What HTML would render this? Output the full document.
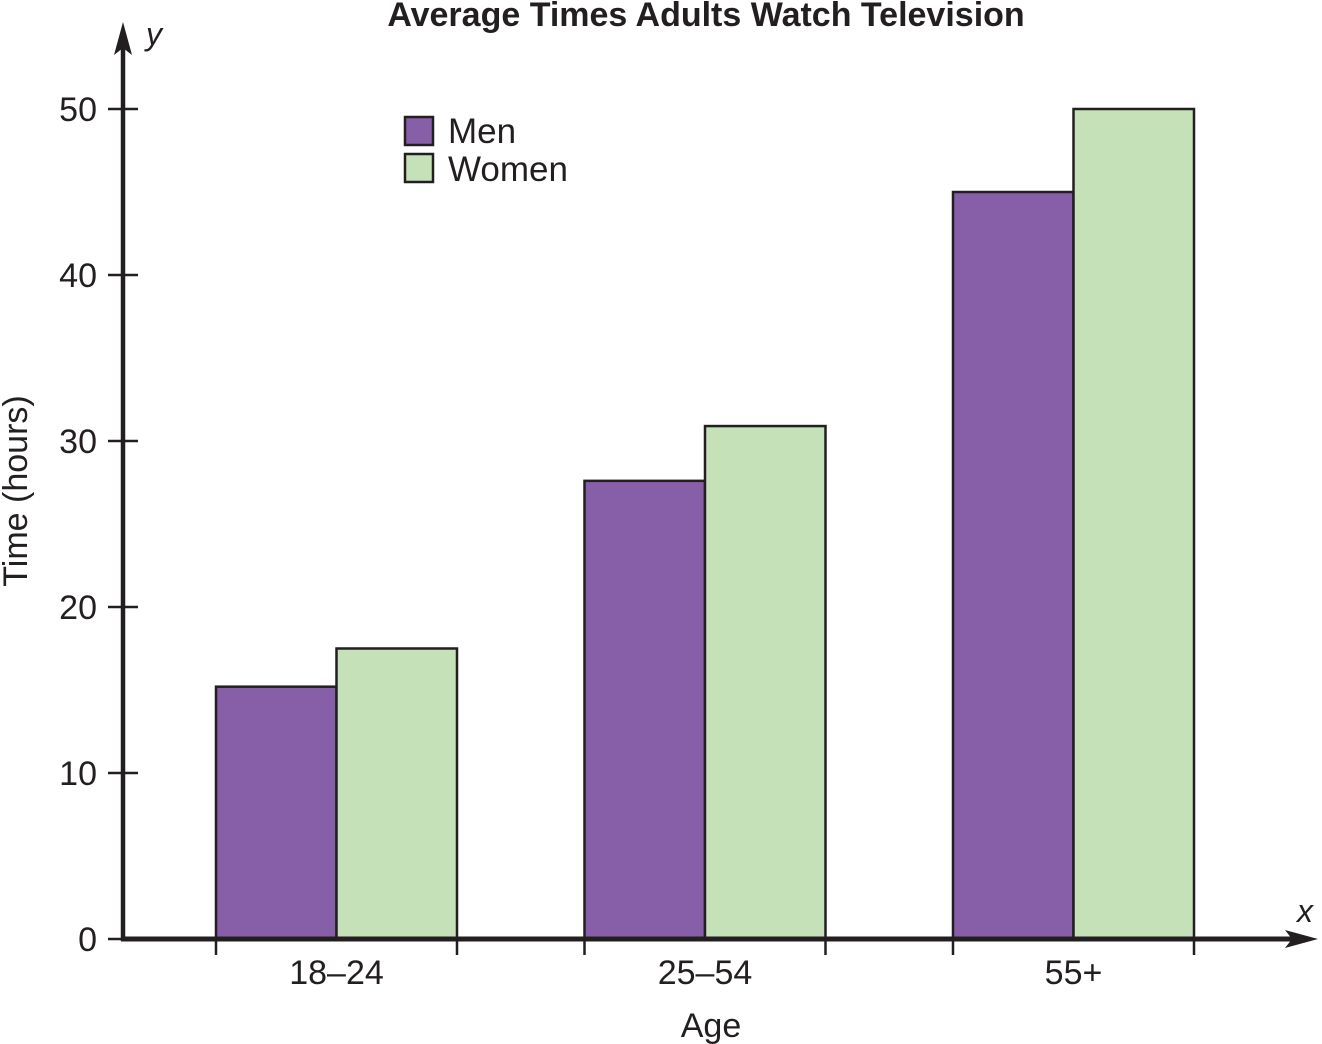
<!DOCTYPE html>
<html><head><meta charset="utf-8"><style>
body{margin:0;background:#fff}
svg{display:block;font-family:"Liberation Sans",sans-serif}
</style></head><body>
<svg id="c" width="1322" height="1044">
<text x="706" y="26" text-anchor="middle" font-size="34" font-weight="bold" fill="#231f20">Average Times Adults Watch Television</text>
<text x="146" y="45" font-size="32" font-style="italic" fill="#231f20">y</text>
<text x="1297" y="922" font-size="32" font-style="italic" fill="#231f20">x</text>
<text x="711" y="1037" text-anchor="middle" font-size="34" fill="#231f20">Age</text>
<text transform="translate(27,491) rotate(-90)" text-anchor="middle" font-size="34" fill="#231f20">Time (hours)</text>
<g>
<rect x="405" y="117" width="28" height="28" fill="#875fa9" stroke="#231f20" stroke-width="2.5"/>
<text x="448" y="143" font-size="35" fill="#231f20">Men</text>
<rect x="405" y="154" width="28" height="28" fill="#c4e1b8" stroke="#231f20" stroke-width="2.5"/>
<text x="448" y="181" font-size="35" fill="#231f20">Women</text>
</g>
<g id="plot"></g>
</svg>
<script>
const categories=["18–24","25–54","55+"];
const men=[15.2,27.6,45];
const women=[17.5,30.9,50];
const yTicks=[0,10,20,30,40,50];
const NS="http://www.w3.org/2000/svg";
const g=document.getElementById('plot');
const y0=939,x0=123,pxPerUnit=16.6;
const Y=v=>y0-v*pxPerUnit;
const groupStart=i=>216+i*368.5;
const bw=120.5;
function el(t,a){const e=document.createElementNS(NS,t);for(const k in a)e.setAttribute(k,a[k]);g.appendChild(e);return e;}
categories.forEach((c,i)=>{
 const gx=groupStart(i);
 const m=el('rect',{x:gx,y:Y(men[i]),width:bw,height:y0-Y(men[i]),fill:'#875fa9',stroke:'#231f20','stroke-width':2.5});
 
 
 const w=el('rect',{x:gx+bw,y:Y(women[i]),width:bw,height:y0-Y(women[i]),fill:'#c4e1b8',stroke:'#231f20','stroke-width':2.5});
 
 
 [gx,gx+2*bw].forEach(tx=>{const t=el('line',{x1:tx,x2:tx,y1:y0,y2:955,stroke:'#231f20','stroke-width':2.5});
  
  });
 const l=el('text',{x:gx+bw,y:984,'text-anchor':'middle','font-size':34,fill:'#231f20'});l.textContent=c;
 
 
});
yTicks.forEach(v=>{
 const t=el('line',{x1:108,x2:138,y1:Y(v),y2:Y(v),stroke:'#231f20','stroke-width':2.5});
 
 
 const l=el('text',{x:97,y:Y(v)+12,'text-anchor':'end','font-size':34,fill:'#231f20'});l.textContent=v;
 
 
});
const ya=el('line',{x1:x0,x2:x0,y1:y0+2,y2:45,stroke:'#231f20','stroke-width':4.5});


const yh=el('path',{d:'M123,22 L114,55 L123,48 L132,55 Z',fill:'#231f20'});


const xa=el('line',{x1:x0-2,x2:1295,y1:y0,y2:y0,stroke:'#231f20','stroke-width':5});


const xh=el('path',{d:'M1318,939 L1285,930 L1292,939 L1285,948 Z',fill:'#231f20'});


</script>
</body></html>
